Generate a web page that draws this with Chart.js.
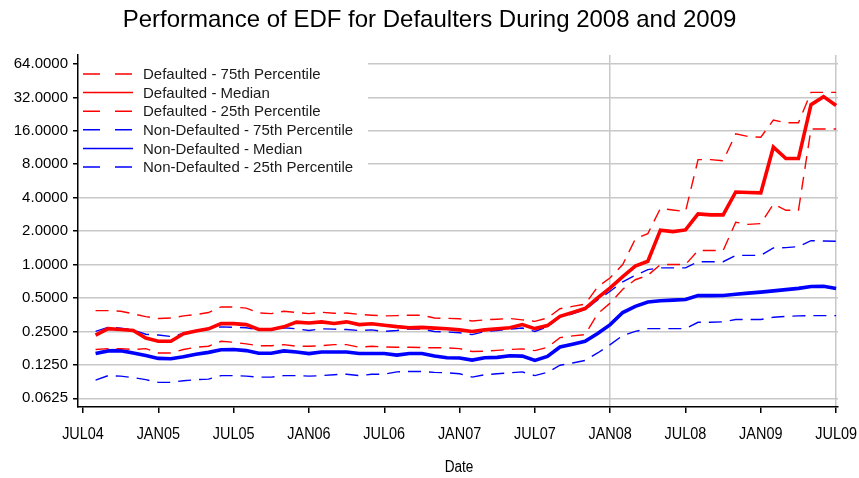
<!DOCTYPE html>
<html>
<head>
<meta charset="utf-8">
<script src="https://cdn.jsdelivr.net/npm/chart.js@4/dist/chart.umd.min.js"></script>
<style>
  html, body { margin: 0; padding: 0; background: #fff; }
</style>
</head>
<body>
<canvas id="chart" width="859" height="478"></canvas>
<script>
// months AUG04 .. JUL09 (index 1..60, JUL04 = 0)
const months = [
    'AUG04','SEP04','OCT04','NOV04','DEC04','JAN05','FEB05','MAR05','APR05','MAY05','JUN05','JUL05',
    'AUG05','SEP05','OCT05','NOV05','DEC05','JAN06','FEB06','MAR06','APR06','MAY06','JUN06','JUL06',
    'AUG06','SEP06','OCT06','NOV06','DEC06','JAN07','FEB07','MAR07','APR07','MAY07','JUN07','JUL07',
    'AUG07','SEP07','OCT07','NOV07','DEC07','JAN08','FEB08','MAR08','APR08','MAY08','JUN08','JUL08',
    'AUG08','SEP08','OCT08','NOV08','DEC08','JAN09','FEB09','MAR09','APR09','MAY09','JUN09','JUL09'
];
const xTickLabels = ['JUL04','JAN05','JUL05','JAN06','JUL06','JAN07','JUL07','JAN08','JUL08','JAN09','JUL09'];
const yTicks = [0.0625, 0.125, 0.25, 0.5, 1, 2, 4, 8, 16, 32, 64];

const defaulted75 = [
    0.385, 0.385, 0.38, 0.36, 0.34, 0.327, 0.33, 0.345, 0.355, 0.37, 0.415, 0.415,
    0.405, 0.367, 0.362, 0.38, 0.37, 0.362, 0.372, 0.364, 0.366, 0.356, 0.35, 0.345,
    0.347, 0.35, 0.35, 0.33, 0.328, 0.325, 0.31, 0.318, 0.322, 0.327, 0.318, 0.308,
    0.33, 0.4, 0.42, 0.44, 0.63, 0.76, 1.0, 1.7, 1.9, 3.2, 3.1, 3.0,
    8.8, 8.8, 8.6, 15, 14.2, 14, 20, 18.9, 18.9, 35.5, 35.5, 35.5
];
const defaultedMedian = [
    0.232, 0.265, 0.26, 0.255, 0.218, 0.204, 0.204, 0.238, 0.252, 0.264, 0.294, 0.294,
    0.288, 0.26, 0.26, 0.275, 0.303, 0.298, 0.305, 0.295, 0.305, 0.288, 0.293, 0.284,
    0.276, 0.27, 0.272, 0.268, 0.264, 0.258, 0.25, 0.258, 0.264, 0.27, 0.288, 0.265,
    0.282, 0.342, 0.37, 0.402, 0.5, 0.617, 0.78, 0.97, 1.07, 2.04, 1.98, 2.05,
    2.86, 2.8, 2.8, 4.5, 4.45, 4.42, 11.4, 9.0, 9.0, 27.5, 32.5, 27
];
const defaulted25 = [
    0.172, 0.175, 0.175, 0.172, 0.175, 0.16, 0.16, 0.172, 0.18, 0.184, 0.204, 0.2,
    0.193, 0.186, 0.186, 0.19, 0.184, 0.184, 0.186, 0.19, 0.19, 0.18, 0.184, 0.181,
    0.18, 0.18, 0.179, 0.178, 0.178, 0.175, 0.165, 0.166, 0.169, 0.172, 0.174, 0.168,
    0.18, 0.22, 0.228, 0.234, 0.36, 0.45, 0.6, 0.73, 0.8, 1.0, 1.0, 1.0,
    1.34, 1.34, 1.34, 2.4, 2.3, 2.34, 3.5, 3.08, 3.08, 16.6, 16.6, 16.6
];
const nonDefaulted75 = [
    0.25, 0.272, 0.268, 0.258, 0.236, 0.232, 0.225, 0.24, 0.255, 0.265, 0.275, 0.272,
    0.27, 0.258, 0.256, 0.27, 0.264, 0.255, 0.264, 0.262, 0.26, 0.255, 0.258, 0.25,
    0.255, 0.264, 0.262, 0.25, 0.247, 0.243, 0.234, 0.25, 0.255, 0.262, 0.268, 0.25,
    0.275, 0.338, 0.36, 0.393, 0.48, 0.575, 0.7, 0.8, 0.9, 0.934, 0.934, 0.934,
    1.06, 1.06, 1.06, 1.21, 1.21, 1.21, 1.41, 1.42, 1.45, 1.64, 1.63, 1.62
];
const nonDefaultedMedian = [
    0.158, 0.167, 0.168, 0.16, 0.152, 0.143, 0.142, 0.148, 0.156, 0.162, 0.171, 0.172,
    0.168, 0.159, 0.159, 0.167, 0.163, 0.158, 0.163, 0.163, 0.163, 0.158, 0.158, 0.158,
    0.153, 0.158, 0.158, 0.15, 0.145, 0.144, 0.138, 0.145, 0.146, 0.151, 0.15, 0.137,
    0.149, 0.181, 0.192, 0.204, 0.24, 0.288, 0.37, 0.42, 0.46, 0.472, 0.478, 0.484,
    0.525, 0.525, 0.527, 0.54, 0.553, 0.565, 0.58, 0.595, 0.61, 0.635, 0.638, 0.61
];
const nonDefaulted25 = [
    0.091, 0.1, 0.099, 0.096, 0.092, 0.087, 0.087, 0.09, 0.092, 0.093, 0.1, 0.1,
    0.099, 0.097, 0.097, 0.1, 0.1, 0.099, 0.1, 0.102, 0.103, 0.1, 0.103, 0.103,
    0.108, 0.109, 0.109, 0.107, 0.106, 0.104, 0.097, 0.102, 0.104, 0.106, 0.108, 0.1,
    0.107, 0.124, 0.13, 0.137, 0.16, 0.19, 0.23, 0.25, 0.265, 0.265, 0.265, 0.265,
    0.302, 0.302, 0.305, 0.32, 0.32, 0.32, 0.335, 0.342, 0.345, 0.347, 0.347, 0.347
];

const RED = '#ff0000';
const BLUE = '#0000ff';
const GRID = '#c8c8c8';
const DASH = [13, 8];
const FONT = "'Liberation Sans', Arial, sans-serif";
const TITLE = 'Performance of EDF for Defaulters During 2008 and 2009';

function toPoints(values) {
    return values.map((v, i) => ({ x: i + 1, y: v }));
}

function series(label, values, color, thick) {
    return {
        label: label,
        data: toPoints(values),
        borderColor: color,
        borderWidth: thick ? 3.6 : 1.4,
        borderDash: thick ? [] : DASH,
        pointRadius: 0,
        tension: 0,
        fill: false
    };
}

// legend drawn inside the plot, over a white box
const legendBox = {
    id: 'legendBox',
    afterDraw(chart) {
        const c = chart.ctx;
        const a = chart.chartArea;
        c.save();
        c.fillStyle = '#fff';
        c.fillRect(a.left + 1, a.top, 367 - a.left, 122);
        c.font = '15px ' + FONT;
        c.textBaseline = 'middle';
        chart.data.datasets.forEach((ds, i) => {
            const y = a.top + 19 + i * 18.6;
            c.strokeStyle = ds.borderColor;
            c.lineWidth = 1.5;
            c.setLineDash(ds.borderDash.length ? [17, 15] : []);
            c.beginPath();
            c.moveTo(a.left + 5, y);
            c.lineTo(a.left + 55, y);
            c.stroke();
            c.setLineDash([]);
            c.fillStyle = '#1a1a1a';
            c.fillText(ds.label, a.left + 65, y + 1);
        });
        c.restore();
    }
};

// title centred on the page, condensed x tick labels and axis title
const textBits = {
    id: 'textBits',
    afterDraw(chart) {
        const c = chart.ctx;
        const sx = chart.scales.x;
        const squeeze = (text, x, y) => {
            c.save();
            c.translate(x, y);
            c.scale(0.85, 1);
            c.fillText(text, 0, 0);
            c.restore();
        };
        c.save();
        c.fillStyle = '#000';
        c.textAlign = 'center';
        c.textBaseline = 'middle';
        c.font = '24px ' + FONT;
        c.fillText(TITLE, chart.width / 2, 20);
        c.font = '17px ' + FONT;
        sx.ticks.forEach((t, i) => squeeze(xTickLabels[i], sx.getPixelForValue(t.value), sx.top + 27));
        c.font = '16px ' + FONT;
        squeeze('Date', 459, sx.top + 61);
        c.restore();
    }
};

new Chart(document.getElementById('chart'), {
    type: 'line',
    data: {
        datasets: [
            series('Defaulted - 75th Percentile', defaulted75, RED, false),
            series('Defaulted - Median', defaultedMedian, RED, true),
            series('Defaulted - 25th Percentile', defaulted25, RED, false),
            series('Non-Defaulted - 75th Percentile', nonDefaulted75, BLUE, false),
            series('Non-Defaulted - Median', nonDefaultedMedian, BLUE, true),
            series('Non-Defaulted - 25th Percentile', nonDefaulted25, BLUE, false)
        ]
    },
    options: {
        responsive: false,
        animation: false,
        layout: { padding: { left: 0, right: 21, top: 55, bottom: 0 } },
        plugins: {
            legend: { display: false },
            tooltip: { enabled: false },
            title: { display: false }
        },
        scales: {
            x: {
                type: 'linear',
                min: -0.4,
                max: 60.15,
                afterBuildTicks: (scale) => {
                    scale.ticks = xTickLabels.map((_, i) => ({ value: i * 6 }));
                },
                afterFit: (scale) => { scale.height = 71; },
                ticks: {
                    display: false,
                    autoSkip: false,
                    maxRotation: 0,
                    callback: (v) => xTickLabels[Math.round(v / 6)]
                },
                grid: {
                    color: (ctx) => (ctx.tick && (ctx.tick.value === 42 || ctx.tick.value === 60)) ? GRID : 'rgba(0,0,0,0)',
                    lineWidth: 1.5,
                    tickColor: '#000',
                    tickLength: 6,
                    tickWidth: 1.5
                },
                border: { color: '#000', width: 1.5 }
            },
            y: {
                type: 'logarithmic',
                min: 0.0522,
                max: 77,
                afterBuildTicks: (scale) => {
                    scale.ticks = yTicks.map((v) => ({ value: v }));
                },
                afterFit: (scale) => { scale.width = 78; },
                ticks: {
                    color: '#000',
                    padding: 5,
                    font: { family: FONT, size: 15 },
                    callback: (v) => Number(v).toFixed(4)
                },
                grid: {
                    color: GRID,
                    lineWidth: 1.5,
                    tickColor: '#000',
                    tickLength: 5,
                    tickWidth: 1.5
                },
                border: { color: '#000', width: 1.5 }
            }
        }
    },
    plugins: [legendBox, textBits]
});
</script>
</body>
</html>
